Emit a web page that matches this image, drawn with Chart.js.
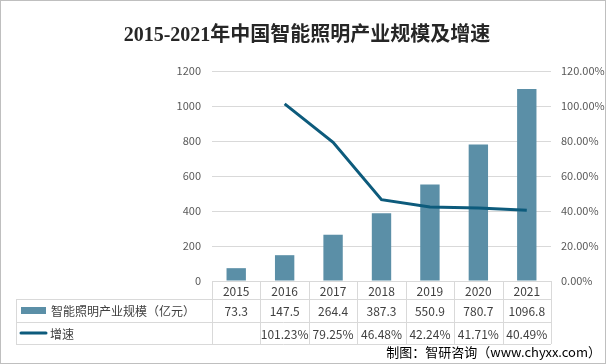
<!DOCTYPE html>
<html>
<head>
<meta charset="utf-8">
<script src="https://cdn.jsdelivr.net/npm/chart.js@4.4.1/dist/chart.umd.min.js"></script>
<style>
  html, body { margin: 0; padding: 0; background: #ffffff; }
  #wrap { width: 606px; height: 364px; }
</style>
</head>
<body>
<div id="wrap"><canvas id="c" width="606" height="364"></canvas></div>
<script>
const titleText = '2015-2021年中国智能照明产业规模及增速';
const sourceText = '制图：智研咨询（www.chyxx.com）';
const years = ['2015', '2016', '2017', '2018', '2019', '2020', '2021'];
const scaleName = '智能照明产业规模（亿元）';
const scaleValues = [73.3, 147.5, 264.4, 387.3, 550.9, 780.7, 1096.8];
const growthName = '增速';
const growthRates = [null, 101.23, 79.25, 46.48, 42.24, 41.71, 40.49];
const leftTicks = [0, 200, 400, 600, 800, 1000, 1200];
const rightTicks = [0, 20, 40, 60, 80, 100, 120];

const BAR_COLOR = '#5b8fa7';
const LINE_COLOR = '#0d5b7c';
const GRID_COLOR = '#d9d9d9';
const TEXT_COLOR = '#404040';
const TICK_COLOR = '#595959';
const CJK = '"Noto Sans CJK SC", "Noto Sans", sans-serif';

const tablePlugin = {
  id: 'tablePlugin',
  afterDraw(chart) {
    const ctx = chart.ctx;
    const x = chart.scales.x;
    const area = chart.chartArea;
    const n = years.length;
    const step = (area.right - area.left) / n;
    const yTop = area.bottom;
    const r1 = 299, r2 = 322, r3 = 344;
    const tableLeft = 16;
    ctx.save();
    ctx.strokeStyle = GRID_COLOR;
    ctx.lineWidth = 1;
    ctx.beginPath();
    ctx.moveTo(area.left, yTop + 0.5); ctx.lineTo(area.right, yTop + 0.5);
    [r1, r2, r3].forEach(y => { ctx.moveTo(tableLeft, y + 0.5); ctx.lineTo(area.right, y + 0.5); });
    ctx.moveTo(tableLeft + 0.5, r1); ctx.lineTo(tableLeft + 0.5, r3);
    for (let i = 0; i <= n; i++) {
      const xx = Math.round(x.getPixelForValue(Math.min(i, n - 1)) + (i === n ? step / 2 : -step / 2)) + 0.5;
      ctx.moveTo(xx, yTop); ctx.lineTo(xx, r3);
    }
    ctx.stroke();

    ctx.fillStyle = TEXT_COLOR;
    ctx.font = '12px ' + CJK;
    ctx.textAlign = 'center';
    ctx.textBaseline = 'middle';
    for (let i = 0; i < n; i++) {
      const cx = x.getPixelForValue(i);
      ctx.fillText(years[i], cx, (yTop + r1) / 2 + 1);
      ctx.fillText(String(scaleValues[i]), cx, (r1 + r2) / 2 + 1);
      if (growthRates[i] !== null) ctx.fillText(growthRates[i].toFixed(2) + '%', cx, (r2 + r3) / 2 + 1);
    }
    ctx.fillStyle = BAR_COLOR;
    ctx.fillRect(21, 307, 25, 7);
    ctx.strokeStyle = LINE_COLOR;
    ctx.lineWidth = 3;
    ctx.lineCap = 'round';
    ctx.beginPath(); ctx.moveTo(21, 333); ctx.lineTo(46, 333); ctx.stroke();
    ctx.fillStyle = TEXT_COLOR;
    ctx.textAlign = 'left';
    ctx.fillText(scaleName, 51, (r1 + r2) / 2 + 1);
    ctx.fillText(growthName, 50, (r2 + r3) / 2 + 1);

    ctx.fillStyle = '#262626';
    ctx.font = 'bold 20px "Liberation Serif", "Noto Sans CJK SC", serif';
    ctx.textAlign = 'center';
    ctx.fillText(titleText, 307, 36);

    ctx.fillStyle = '#000000';
    ctx.font = '13px ' + CJK;
    ctx.textAlign = 'right';
    ctx.fillText(sourceText, 601, 352);

    ctx.strokeStyle = '#bfbfbf';
    ctx.lineWidth = 1;
    ctx.strokeRect(0.5, 0.5, chart.width - 1, chart.height - 1);
    ctx.restore();
  }
};

new Chart(document.getElementById('c'), {
  data: {
    labels: years,
    datasets: [
      {
        type: 'line',
        label: growthName,
        data: growthRates,
        yAxisID: 'y1',
        borderColor: LINE_COLOR,
        backgroundColor: LINE_COLOR,
        borderWidth: 3,
        pointRadius: 0,
        tension: 0,
        spanGaps: false,
        order: 0
      },
      {
        type: 'bar',
        label: scaleName,
        data: scaleValues,
        yAxisID: 'y',
        backgroundColor: BAR_COLOR,
        borderWidth: 0,
        barPercentage: 0.4,
        categoryPercentage: 1.0,
        order: 1
      }
    ]
  },
  options: {
    responsive: false,
    animation: false,
    layout: { padding: { left: 0, right: 0, top: 71, bottom: 83 } },
    plugins: { legend: { display: false }, title: { display: false }, tooltip: { enabled: false } },
    scales: {
      x: { type: 'category', display: false, offset: true },
      y: {
        position: 'left',
        min: leftTicks[0], max: leftTicks[leftTicks.length - 1],
        afterFit(s) { s.width = 212; },
        afterBuildTicks(s) { s.ticks = leftTicks.map(v => ({ value: v })); },
        ticks: { color: TICK_COLOR, font: { size: 11, family: CJK }, padding: 11, callback: v => String(v) },
        grid: { color: GRID_COLOR, drawTicks: false },
        border: { display: false }
      },
      y1: {
        position: 'right',
        min: rightTicks[0], max: rightTicks[rightTicks.length - 1],
        afterFit(s) { s.width = 55; },
        afterBuildTicks(s) { s.ticks = rightTicks.map(v => ({ value: v })); },
        ticks: { color: TICK_COLOR, font: { size: 11, family: CJK }, padding: 10, callback: v => Number(v).toFixed(2) + '%' },
        grid: { display: false, drawTicks: false },
        border: { display: false }
      }
    }
  },
  plugins: [tablePlugin]
});
</script>
</body>
</html>
